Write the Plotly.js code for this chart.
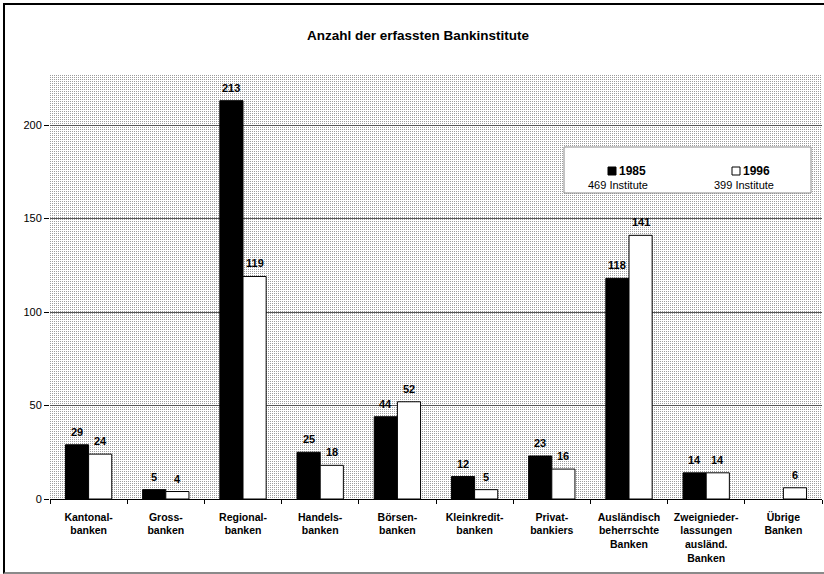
<!DOCTYPE html>
<html>
<head>
<meta charset="utf-8">
<script src="https://cdn.plot.ly/plotly-3.0.1.min.js"></script>
<style>
  html, body { margin: 0; padding: 0; background: #fff; }
  #wrap { position: relative; width: 824px; height: 574px; overflow: hidden; }
  #chart { position: absolute; left: 0; top: 0; width: 824px; height: 574px; }
  /* sheet frame: black top and left edges, grey bottom edge */
  #frame { position: absolute; left: 3px; top: 3px; width: 830px; height: 567px;
           border-top: 2px solid #000; border-left: 2px solid #000;
           border-bottom: 2px solid #8a8a8a; pointer-events: none; }
</style>
</head>
<body>
<div id="wrap">
  <div id="chart"></div>
  <div id="frame"></div>
</div>
<script>
// Bank groups (multi-line tick labels)
var categories = [
  "Kantonal-<br>banken",
  "Gross-<br>banken",
  "Regional-<br>banken",
  "Handels-<br>banken",
  "Börsen-<br>banken",
  "Kleinkredit-<br>banken",
  "Privat-<br>bankiers",
  "Ausländisch<br>beherrschte<br>Banken",
  "Zweignieder-<br>lassungen<br>ausländ.<br>Banken",
  "Übrige<br>Banken"
];

// Number of institutions per group
var count1985 = [29, 5, 213, 25, 44, 12, 23, 118, 14, null];
var count1996 = [24, 4, 119, 18, 52, 5, 16, 141, 14, 6];

var years = ["1985", "1996"];
var totals = ["469 Institute", "399 Institute"];
var yTicks = [0, 50, 100, 150, 200];

var FONT = "Liberation Sans, Arial, Helvetica, sans-serif";

// Plot area geometry in pixels, used to place the legend box in paper units
var M = { l: 50, r: 2, t: 75, b: 75 };
var W = 824, H = 574;
var PW = W - M.l - M.r, PH = H - M.t - M.b;
function px(x) { return (x - M.l) / PW; }
function py(y) { return (H - M.b - y) / PH; }

var BARGAP = 0.4;
// horizontal offset of each bar's centre from its category centre
var barOffset = (PW / categories.length) * (1 - BARGAP) / 4;

// Fine dotted fill for the plot area
var dots = '<svg xmlns="http://www.w3.org/2000/svg" width="' + PW + '" height="' + PH + '">' +
  '<defs><pattern id="d" width="2" height="2" patternUnits="userSpaceOnUse">' +
  '<rect width="2" height="2" fill="#ffffff"/><rect width="1" height="1" fill="#9c9c9c"/>' +
  '</pattern></defs><rect width="100%" height="100%" fill="url(#d)"/></svg>';
var dotsUri = "data:image/svg+xml;base64," + btoa(dots);

function barTrace(name, values, fill) {
  return {
    type: "bar",
    name: name,
    x: categories,
    y: values,
    marker: { color: fill, line: { color: "#000", width: 1 } },
    hoverinfo: "x+y"
  };
}

var data = [
  barTrace(years[0], count1985, "#000000"),
  barTrace(years[1], count1996, "#ffffff")
];

// Value labels above each bar, placed from the same values
function valueLabels(values, shift) {
  var out = [];
  values.forEach(function (v, i) {
    if (v === null) return;
    out.push({
      text: "<b>" + v + "</b>", x: categories[i], y: v, xref: "x", yref: "y",
      xshift: shift, yshift: 5, showarrow: false,
      xanchor: "center", yanchor: "bottom",
      font: { family: FONT, size: 11, color: "#000" }
    });
  });
  return out;
}

// Legend box drawn as a shape with text annotations
var box = { x0: 564, x1: 811, y0: 147, y1: 193 };
var shapes = [
  { type: "rect", xref: "paper", yref: "paper",
    x0: px(box.x0), x1: px(box.x1), y0: py(box.y1), y1: py(box.y0),
    fillcolor: "#ffffff", line: { color: "#8a8a8a", width: 1 }, layer: "above" },
  { type: "rect", xref: "paper", yref: "paper",
    x0: px(608), x1: px(616), y0: py(175), y1: py(167),
    fillcolor: "#000000", line: { color: "#000", width: 1 }, layer: "above" },
  { type: "rect", xref: "paper", yref: "paper",
    x0: px(732), x1: px(740), y0: py(175), y1: py(167),
    fillcolor: "#ffffff", line: { color: "#000", width: 1 }, layer: "above" }
];

var annotations = [
  { text: "<b>Anzahl der erfassten Bankinstitute</b>", xref: "paper", yref: "paper",
    x: px(418), y: py(35), showarrow: false, xanchor: "center", yanchor: "middle",
    font: { family: FONT, size: 13.5, color: "#000" } },
  { text: "<b>" + years[0] + "</b>", xref: "paper", yref: "paper",
    x: px(617), y: py(171), showarrow: false, xanchor: "left", yanchor: "middle",
    font: { family: FONT, size: 12, color: "#000" } },
  { text: "<b>" + years[1] + "</b>", xref: "paper", yref: "paper",
    x: px(741), y: py(171), showarrow: false, xanchor: "left", yanchor: "middle",
    font: { family: FONT, size: 12, color: "#000" } },
  { text: totals[0], xref: "paper", yref: "paper",
    x: px(617.5), y: py(185), showarrow: false, xanchor: "center", yanchor: "middle",
    font: { family: FONT, size: 11, color: "#000" } },
  { text: totals[1], xref: "paper", yref: "paper",
    x: px(743.5), y: py(185), showarrow: false, xanchor: "center", yanchor: "middle",
    font: { family: FONT, size: 11, color: "#000" } }
].concat(valueLabels(count1985, -barOffset), valueLabels(count1996, barOffset));

var layout = {
  width: W, height: H,
  margin: M,
  paper_bgcolor: "#ffffff",
  plot_bgcolor: "rgba(0,0,0,0)",
  showlegend: false,
  barmode: "group",
  bargap: BARGAP,
  bargroupgap: 0,
  font: { family: FONT, size: 11, color: "#000" },
  images: [{ source: dotsUri, xref: "paper", yref: "paper", x: 0, y: 1,
             sizex: 1, sizey: 1, sizing: "stretch", layer: "below",
             xanchor: "left", yanchor: "top" }],
  xaxis: {
    type: "category",
    showgrid: false,
    showline: true, linecolor: "#000", linewidth: 1,
    ticks: "outside", tickson: "boundaries", ticklen: 4, tickcolor: "#000",
    tickfont: { family: FONT, size: 10.5, color: "#000", weight: "bold" },
    ticklabelstandoff: 8,
    zeroline: false, fixedrange: true
  },
  yaxis: {
    range: [0, (H - M.b - M.t) / 1.87],
    tickvals: yTicks,
    ticktext: yTicks.map(String),
    ticks: "outside", ticklen: 5, tickcolor: "#000",
    tickfont: { family: FONT, size: 11, color: "#000" },
    showgrid: true, gridcolor: "#555555", gridwidth: 1,
    zeroline: false, showline: false, fixedrange: true
  },
  shapes: shapes,
  annotations: annotations
};

Plotly.newPlot("chart", data, layout, { displayModeBar: false, staticPlot: true });
</script>
</body>
</html>
